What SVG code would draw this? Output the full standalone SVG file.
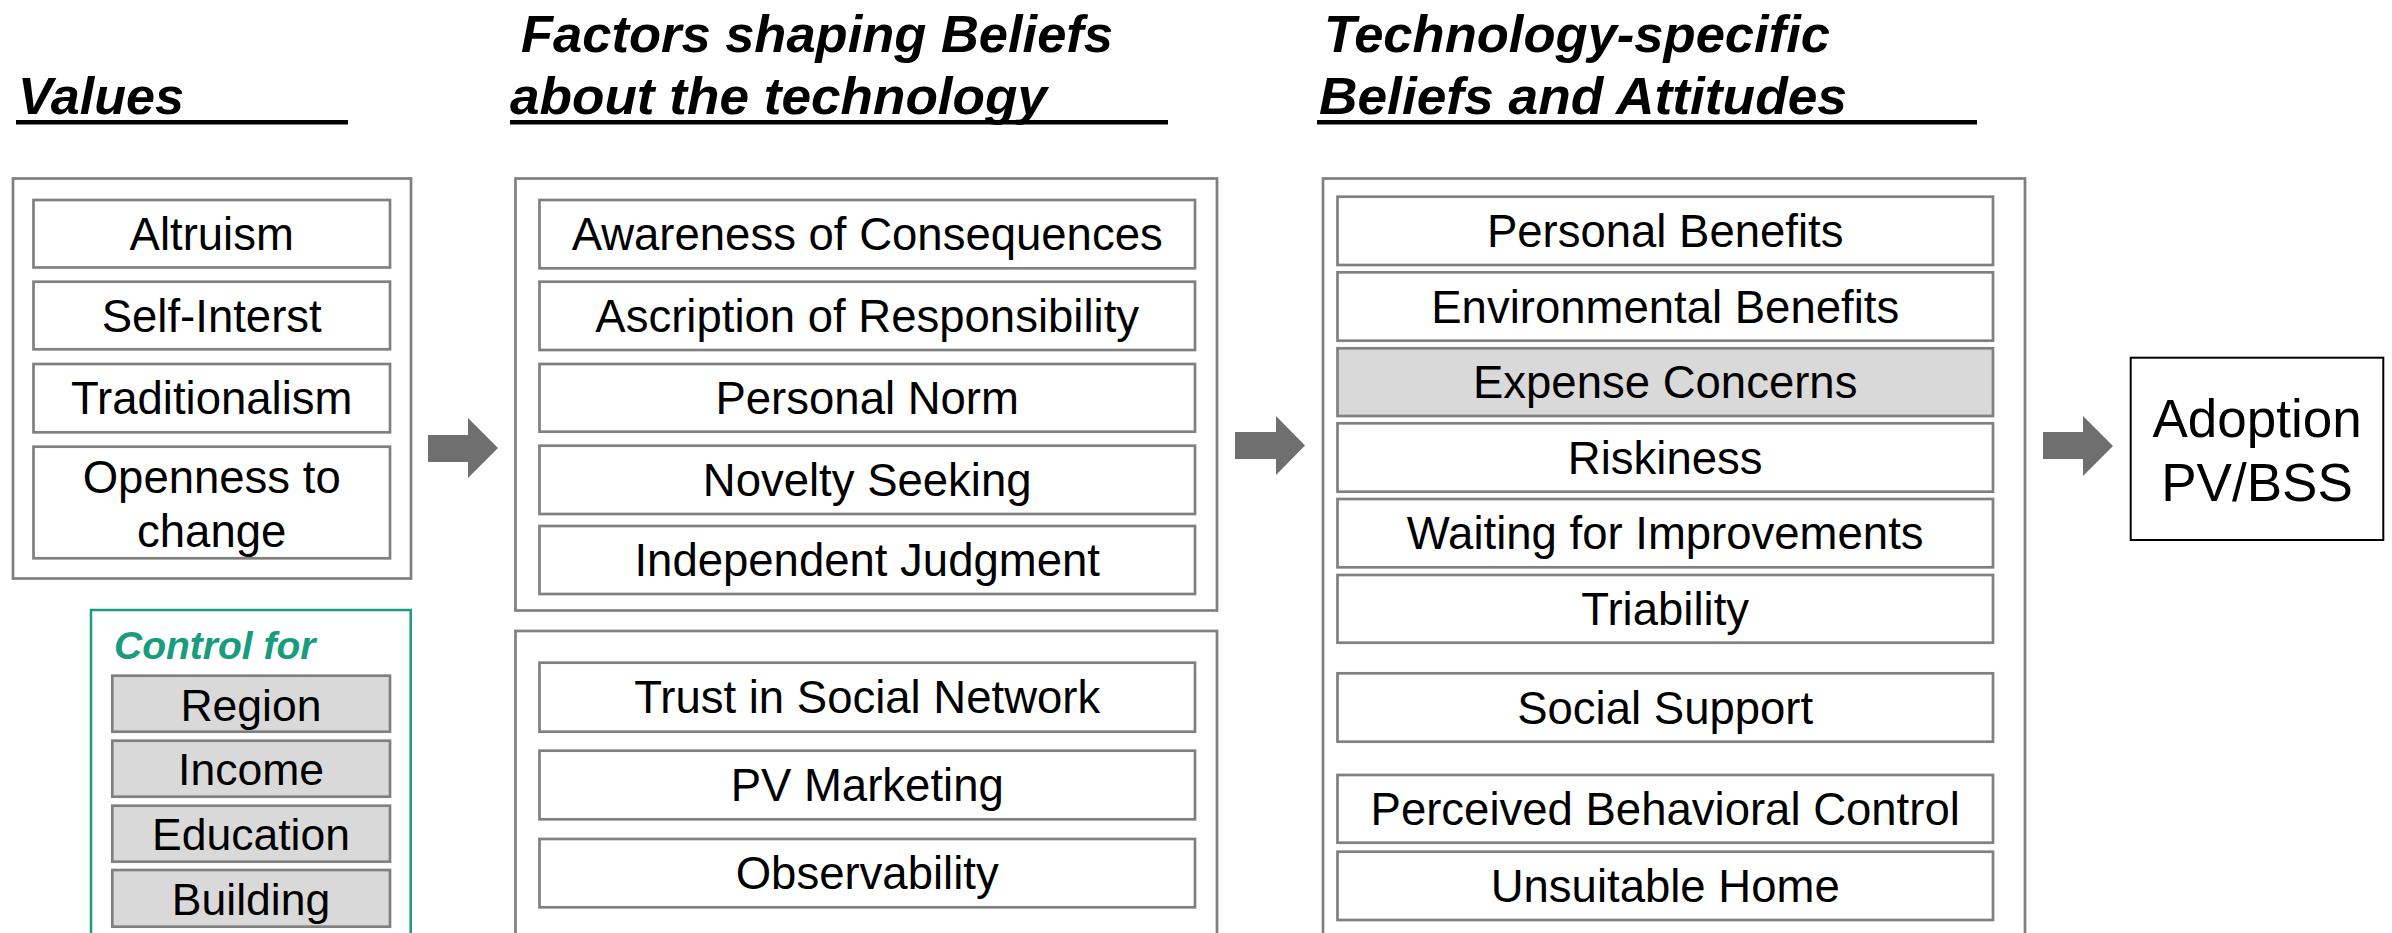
<svg xmlns="http://www.w3.org/2000/svg" width="2392" height="933" viewBox="0 0 2392 933">
  <defs>
    <style>
      .frame { fill: #ffffff; stroke: #808080; stroke-width: 2.7; }
      .item { fill: #ffffff; stroke: #808080; stroke-width: 2.7; }
      .item.shade { fill: #d9d9d9; }
      .ctrl { fill: none; stroke: #179c7d; stroke-width: 2.5; }
      .lbl { font-family: "Liberation Sans", Arial, sans-serif; font-size: 45.5px; fill: #000000; text-anchor: middle; }
      .lbl.sm { font-size: 44.5px; }
      .head { font-family: "Liberation Sans", Arial, sans-serif; font-size: 52px; font-weight: bold; font-style: italic; fill: #000000; }
      .rule { fill: #000000; }
      .flow { fill: #6f6f6f; }
    </style>
  </defs>

  <rect x="0" y="0" width="2392" height="933" fill="#ffffff"/>

  <!-- column headings -->
  <g id="headings">
    <text class="head" x="18" y="114" textLength="166" lengthAdjust="spacingAndGlyphs">Values</text>
    <rect class="rule" x="16" y="120" width="332" height="4.5"/>
    <text class="head" x="521" y="52" textLength="592" lengthAdjust="spacingAndGlyphs">Factors shaping Beliefs</text>
    <text class="head" x="510" y="114" textLength="537" lengthAdjust="spacingAndGlyphs">about the technology</text>
    <rect class="rule" x="510" y="120" width="658" height="4.5"/>
    <text class="head" x="1324" y="52" textLength="506" lengthAdjust="spacingAndGlyphs">Technology-specific</text>
    <text class="head" x="1319" y="114" textLength="528" lengthAdjust="spacingAndGlyphs">Beliefs and Attitudes</text>
    <rect class="rule" x="1317" y="120" width="660" height="4.5"/>
  </g>

  <!-- values -->
  <g id="values">
    <rect class="frame" x="13" y="178.5" width="398" height="400"/>
    <rect class="item" x="33.5" y="200" width="356.5" height="67.5"/>
    <text class="lbl" x="211.7" y="249.7">Altruism</text>
    <rect class="item" x="33.5" y="281.7" width="356.5" height="67.6"/>
    <text class="lbl" x="211.7" y="331.5">Self-Interst</text>
    <rect class="item" x="33.5" y="364" width="356.5" height="68.3"/>
    <text class="lbl" x="211.7" y="414.2">Traditionalism</text>
    <rect class="item" x="33.5" y="446.7" width="356.5" height="111.6"/>
    <text class="lbl" x="211.7" y="493">Openness to</text>
    <text class="lbl" x="211.7" y="547">change</text>
  </g>

  <!-- control variables -->
  <g id="control">
    <rect class="ctrl" x="91" y="610" width="319.7" height="340"/>
    <text x="114" y="659.3" font-family="Liberation Sans, Arial, sans-serif" font-size="39" font-weight="bold" font-style="italic" fill="#179c7d">Control for</text>
    <rect class="item shade" x="112.3" y="675.7" width="277.7" height="56"/>
    <text class="lbl sm" x="251" y="720.5">Region</text>
    <rect class="item shade" x="112.3" y="740.7" width="277.7" height="56"/>
    <text class="lbl sm" x="251" y="785">Income</text>
    <rect class="item shade" x="112.3" y="805.7" width="277.7" height="56"/>
    <text class="lbl sm" x="251" y="850">Education</text>
    <rect class="item shade" x="112.3" y="870" width="277.7" height="56.7"/>
    <text class="lbl sm" x="251" y="914.5">Building</text>
  </g>

  <!-- factors shaping beliefs: personal -->
  <g id="factors-personal">
    <rect class="frame" x="515.5" y="178.5" width="701.5" height="432"/>
    <rect class="item" x="539.5" y="200" width="655.5" height="68.3"/>
    <text class="lbl" x="867.2" y="250.3">Awareness of Consequences</text>
    <rect class="item" x="539.5" y="281.7" width="655.5" height="68.3"/>
    <text class="lbl" x="867.2" y="332">Ascription of Responsibility</text>
    <rect class="item" x="539.5" y="364" width="655.5" height="67.7"/>
    <text class="lbl" x="867.2" y="414">Personal Norm</text>
    <rect class="item" x="539.5" y="445.7" width="655.5" height="68.3"/>
    <text class="lbl" x="867.2" y="496">Novelty Seeking</text>
    <rect class="item" x="539.5" y="526" width="655.5" height="68"/>
    <text class="lbl" x="867.2" y="576">Independent Judgment</text>
  </g>

  <!-- factors shaping beliefs: social -->
  <g id="factors-social">
    <rect class="frame" x="515.5" y="631" width="701.5" height="330"/>
    <rect class="item" x="539.5" y="662.7" width="655.5" height="69"/>
    <text class="lbl" x="867.2" y="713.2">Trust in Social Network</text>
    <rect class="item" x="539.5" y="750.7" width="655.5" height="68.6"/>
    <text class="lbl" x="867.2" y="801">PV Marketing</text>
    <rect class="item" x="539.5" y="839" width="655.5" height="68.3"/>
    <text class="lbl" x="867.2" y="889.2">Observability</text>
  </g>

  <!-- technology-specific beliefs and attitudes -->
  <g id="beliefs">
    <rect class="frame" x="1323" y="178.5" width="702" height="790"/>
    <rect class="item" x="1337.5" y="196.7" width="655.5" height="68.3"/>
    <text class="lbl" x="1665.2" y="246.8">Personal Benefits</text>
    <rect class="item" x="1337.5" y="272.3" width="655.5" height="68.4"/>
    <text class="lbl" x="1665.2" y="322.5">Environmental Benefits</text>
    <rect class="item shade" x="1337.5" y="348.3" width="655.5" height="67.7"/>
    <text class="lbl" x="1665.2" y="398.2">Expense Concerns</text>
    <rect class="item" x="1337.5" y="423.3" width="655.5" height="68.4"/>
    <text class="lbl" x="1665.2" y="473.5">Riskiness</text>
    <rect class="item" x="1337.5" y="499" width="655.5" height="68.3"/>
    <text class="lbl" x="1665.2" y="549.2">Waiting for Improvements</text>
    <rect class="item" x="1337.5" y="575" width="655.5" height="67.7"/>
    <text class="lbl" x="1665.2" y="624.8">Triability</text>
    <rect class="item" x="1337.5" y="673.3" width="655.5" height="68.4"/>
    <text class="lbl" x="1665.2" y="723.5">Social Support</text>
    <rect class="item" x="1337.5" y="775" width="655.5" height="67.7"/>
    <text class="lbl" x="1665.2" y="824.8">Perceived Behavioral Control</text>
    <rect class="item" x="1337.5" y="851.7" width="655.5" height="68.3"/>
    <text class="lbl" x="1665.2" y="901.8">Unsuitable Home</text>
  </g>

  <!-- outcome -->
  <g id="adoption">
    <rect x="2130.7" y="357.7" width="252.6" height="182.3" fill="#ffffff" stroke="#000000" stroke-width="2"/>
    <text x="2257" y="436.7" font-family="Liberation Sans, Arial, sans-serif" font-size="53" text-anchor="middle" fill="#000000">Adoption</text>
    <text x="2257" y="500.7" font-family="Liberation Sans, Arial, sans-serif" font-size="53" text-anchor="middle" fill="#000000">PV/BSS</text>
  </g>

  <!-- block arrows between the stages -->
  <g id="connectors">
    <polygon class="flow" points="428,435 468,435 468,418 498,448 468,478 468,462 428,462"/>
    <polygon class="flow" points="1235,432 1276,432 1276,416 1305,445.5 1276,475 1276,459 1235,459"/>
    <polygon class="flow" points="2043,432 2083,432 2083,416 2113,446 2083,476 2083,459 2043,459"/>
  </g>
</svg>
